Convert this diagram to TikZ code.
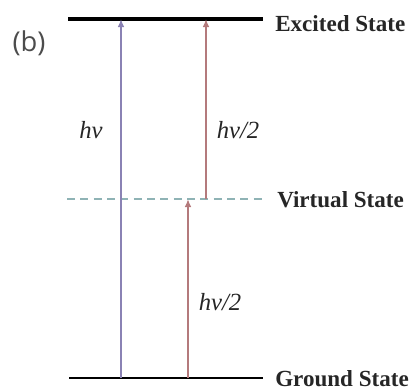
\documentclass[tikz,border=0pt]{standalone}
\usepackage{fontspec}
\setmainfont{Liberation Serif}
\newfontfamily\panelfont{Open Sans}
\usetikzlibrary{arrows,arrows.meta}
\usetikzlibrary{calc}
\definecolor{violetray}{HTML}{8A82B4}
\definecolor{redray}{HTML}{B47A7C}
\definecolor{dashteal}{HTML}{8FB3B5}
\tikzset{>=latex}
\tikzstyle{level} = [%
					line width = 2.4,
					color = black]
\tikzstyle{virtual} = [%
					line width = 2.0,
					color = dashteal,
					dash pattern = on 6pt off 4pt]
\tikzstyle{pump} = [%
					line width = 1.6,
					color = violetray,
					-{Latex[length=6pt,width=5pt]}]
\tikzstyle{half} = [%
					line width = 1.6,
					color = redray,
					-{Latex[length=6pt,width=5pt]}]
\tikzstyle{statelabel} = [%
					anchor = base west,
					inner sep = 0pt,
					text = black!85,
					font = \fontsize{17.3}{19}\selectfont\bfseries]
\tikzstyle{photon} = [%
					inner sep = 0pt,
					text = black!85,
					font = \fontsize{18.5}{20}\selectfont\itshape]

\begin{document}
\begin{tikzpicture}[x=0.75pt,y=-0.75pt]
	\useasboundingbox (0,0) rectangle (413,390);
	
	% Coordinates
	\coordinate (E1) at (68,19);
	\coordinate (E2) at (263,19);
	\coordinate (V1) at (67,199);
	\coordinate (V2) at (262,199);
	\coordinate (G1) at (69,378);
	\coordinate (G2) at (263,378);
	
	% Levels
	\draw[level, line width=3.2] (E1) -- (E2);
	\draw[virtual] (V1) -- (V2);
	\draw[level, line width=2.2] (G1) -- (G2);
	
	% Labels
	\node[statelabel] (exc) at (275,31) {Excited State};
	\node[statelabel] (vir) at (277,207) {Virtual State};
	\node[statelabel] (gnd) at (275,386) {Ground State};
	\node[font=\panelfont\fontsize{20.5}{22}\selectfont, text=black!70] (b) at (29,43) {(b)};
	
	% Transitions
	\coordinate (a0) at (121,378);
	\coordinate (a1) at (121,19);
	\coordinate (r0) at (188,378);
	\coordinate (r1) at (188,199);
	\coordinate (s0) at (206,199);
	\coordinate (s1) at (206,19);
	\draw[pump] (a0) -- (a1);
	\draw[half] (r0) -- (r1);
	\draw[half] (s0) -- (s1);
	
	\node[photon] (hv) at (91,130) {hv};
	\node[photon] (hv2a) at (238,130) {hv/2};
	\node[photon] (hv2b) at (220,302) {hv/2};
\end{tikzpicture}
\end{document}
